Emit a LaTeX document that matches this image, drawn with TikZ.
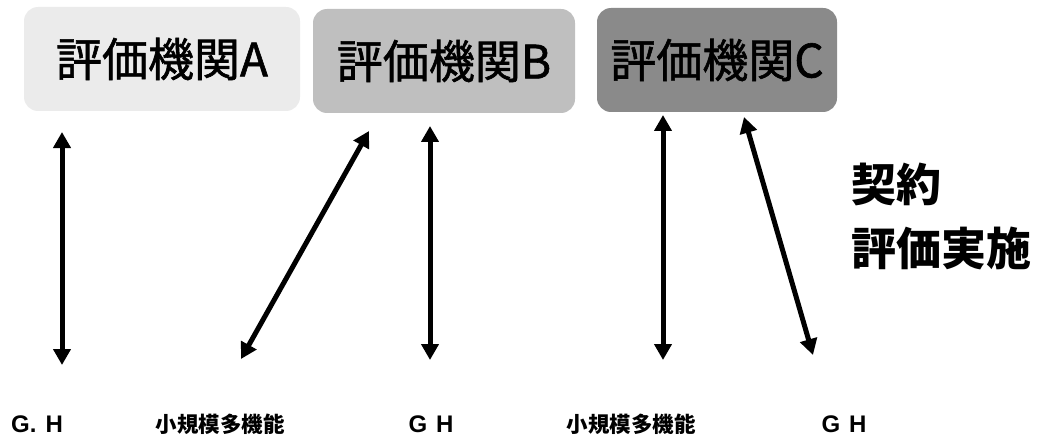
\documentclass[tikz,border=0pt]{standalone}
\usepackage{fontspec}
\setmainfont{Noto Sans CJK JP}
\newfontfamily\boxfont[BoldFont=Noto Sans CJK JP, BoldFeatures={FakeBold=1.3}]{Noto Sans CJK JP}
\newfontfamily\latinfont{Liberation Sans}
\usetikzlibrary{arrows.meta}
\begin{document}
\begin{tikzpicture}[x=1pt,y=-1pt,
  orgbox/.style={rounded corners=14pt, inner sep=0pt, minimum height=104pt,
    font=\fontsize{46}{50}\selectfont\boxfont\bfseries},
  botlabel/.style={inner sep=0pt, font=\fontsize{21.5}{24}\selectfont\bfseries},
  ghlabel/.style={inner sep=0pt, font=\fontsize{24}{26}\selectfont\latinfont\bfseries},
  sidelabel/.style={inner sep=0pt, anchor=west, font=\fontsize{45}{50}\selectfont\bfseries},
  biarrow/.style={line width=5pt, {Triangle[length=16pt,width=17pt]}-{Triangle[length=16pt,width=17pt]}}
]
\useasboundingbox (0,0) rectangle (1049,441);
% boxes
\node[orgbox, fill=black!8, minimum width=276pt] (boxA) at (162,59) {評価機関A};
\node[orgbox, fill=black!25, minimum width=262pt] (boxB) at (444,61) {評価機関B};
\node[orgbox, fill=black!46, minimum width=240pt] (boxC) at (717,60) {評価機関C};
% side text
\node[sidelabel] (keiyaku) at (851,184) {契約};
\node[sidelabel] (jisshi) at (851,248) {評価実施};
% bottom labels
\node[ghlabel] (gh1) at (37,424) {G.\hspace{9pt}H};
\node[botlabel] (sm1) at (220,424) {小規模多機能};
\node[ghlabel] (gh2) at (431,424) {G\hspace{9pt}H};
\node[botlabel] (sm2) at (631,424) {小規模多機能};
\node[ghlabel] (gh3) at (844,424) {G\hspace{9pt}H};
% arrow end points
\coordinate (a1t) at (62,132);  \coordinate (a1b) at (62,365);
\coordinate (a2t) at (369,131); \coordinate (a2b) at (241,359);
\coordinate (a3t) at (430,126); \coordinate (a3b) at (430,360);
\coordinate (a4t) at (663,115); \coordinate (a4b) at (663,360);
\coordinate (a5t) at (744,117); \coordinate (a5b) at (813,355);
\draw[biarrow] (a1t) -- (a1b);
\draw[biarrow] (a2t) -- (a2b);
\draw[biarrow] (a3t) -- (a3b);
\draw[biarrow] (a4t) -- (a4b);
\draw[biarrow] (a5t) -- (a5b);
\end{tikzpicture}
\end{document}
